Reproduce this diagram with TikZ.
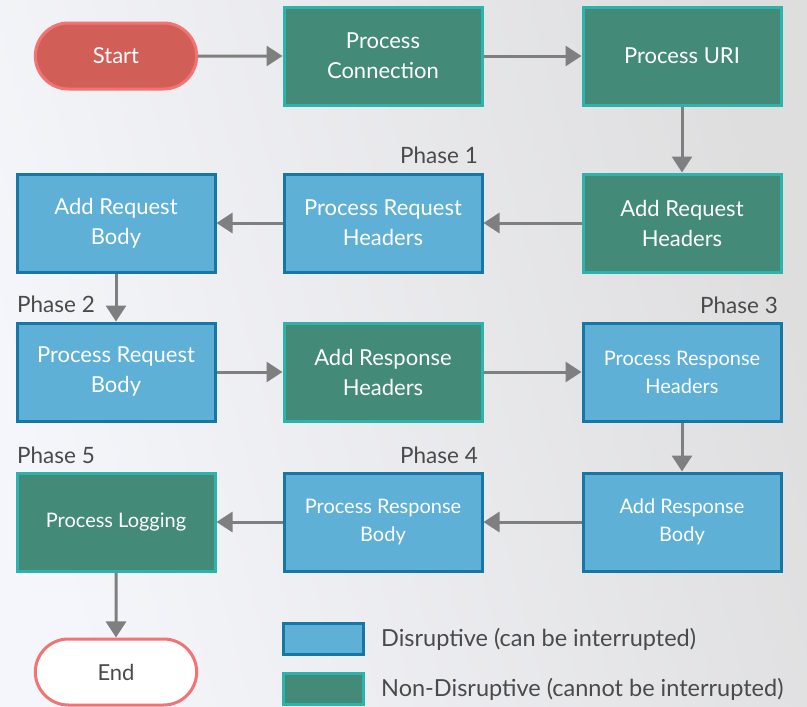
\documentclass[tikz,border=0pt]{standalone}
\usepackage{fontspec}
\setmainfont{Lato}
\usetikzlibrary{arrows.meta,shapes.misc}
\definecolor{bgleft}{HTML}{F5F6FB}
\definecolor{bgright}{HTML}{DEDEDF}
\definecolor{blufill}{HTML}{5EB0D7}
\definecolor{bluline}{HTML}{1677A6}
\definecolor{grnfill}{HTML}{438A78}
\definecolor{grnline}{HTML}{2BB3AE}
\definecolor{redfill}{HTML}{D15F57}
\definecolor{redline}{HTML}{F27373}
\definecolor{arrowgray}{HTML}{7F7F7F}
\definecolor{labelgray}{HTML}{4A4A4A}
\tikzset{
  x=1pt, y=-1pt,
  box/.style={rectangle, minimum width=198pt, minimum height=98pt, line width=3pt,
    align=center, text=white, inner sep=2pt, font=\fontsize{22}{30}\selectfont},
  disr/.style={box, draw=bluline, fill=blufill},
  nondisr/.style={box, draw=grnline, fill=grnfill},
  smalltxt/.style={font=\fontsize{20}{28}\selectfont},
  terminal/.style={rounded rectangle, minimum width=168pt, minimum height=66pt,
    line width=3pt, draw=redline, font=\fontsize{22}{26}\selectfont},
  phase/.style={text=labelgray, inner sep=0pt, font=\fontsize{22.5}{27}\selectfont},
  legendtxt/.style={text=labelgray, inner sep=0pt, font=\fontsize{23.5}{28}\selectfont},
  flow/.style={draw=arrowgray, line width=3pt, -{Triangle[length=16pt,width=20pt]}},
  swatch/.style={rectangle, minimum width=80pt, minimum height=31pt, line width=3pt},
}
\begin{document}
\begin{tikzpicture}
% backdrop
\shade[shading=axis, left color=bgleft, right color=bgright, shading angle=105]
  (0,0) rectangle (807,707);
\useasboundingbox (0,0) rectangle (807,707);

% row 1
\node[terminal, fill=redfill, text=white] (start) at (116,56) {Start};
\node[nondisr] (conn) at (383,56) {Process\\Connection};
\node[nondisr] (uri) at (682,56) {Process URI};

% row 2
\node[nondisr] (addreqh) at (682,223) {Add Request\\Headers};
\node[disr] (procreqh) at (383,223) {Process Request\\Headers};
\node[disr] (addreqb) at (116,223) {Add Request\\Body};

% row 3
\node[disr] (procreqb) at (116,372) {Process Request\\Body};
\node[nondisr] (addresh) at (383,372) {Add Response\\Headers};
\node[disr, smalltxt] (procresh) at (682,372) {Process Response\\Headers};

% row 4
\node[disr, smalltxt] (addresb) at (682,522) {Add Response\\Body};
\node[disr, smalltxt] (procresb) at (383,522) {Process Response\\Body};
\node[nondisr, smalltxt] (logging) at (116,522) {Process Logging};

\node[terminal, fill=white, text=labelgray] (end) at (116,672) {End};

% phase labels
\node[phase, anchor=east] (ph1) at (478,155) {Phase 1};
\node[phase, anchor=west] (ph2) at (17,304) {Phase 2};
\node[phase, anchor=east] (ph3) at (778,305) {Phase 3};
\node[phase, anchor=east] (ph4) at (478,455) {Phase 4};
\node[phase, anchor=west] (ph5) at (17,455) {Phase 5};

% connectors
\draw[flow] (start) -- (conn);
\draw[flow] (conn) -- (uri);
\draw[flow] (uri) -- (addreqh);
\draw[flow] (addreqh) -- (procreqh);
\draw[flow] (procreqh) -- (addreqb);
\draw[flow] (addreqb) -- (procreqb);
\draw[flow] (procreqb) -- (addresh);
\draw[flow] (addresh) -- (procresh);
\draw[flow] (procresh) -- (addresb);
\draw[flow] (addresb) -- (procresb);
\draw[flow] (procresb) -- (logging);
\draw[flow] (logging) -- (end);

% legend
\node[swatch, draw=bluline, fill=blufill] (keyd) at (323.5,639) {};
\node[swatch, draw=grnline, fill=grnfill] (keyn) at (323.5,689) {};
\node[legendtxt, anchor=west] (keydtxt) at (381,639) {Disruptive (can be interrupted)};
\node[legendtxt, anchor=west] (keyntxt) at (381,689) {Non-Disruptive (cannot be interrupted)};
\end{tikzpicture}
\end{document}
